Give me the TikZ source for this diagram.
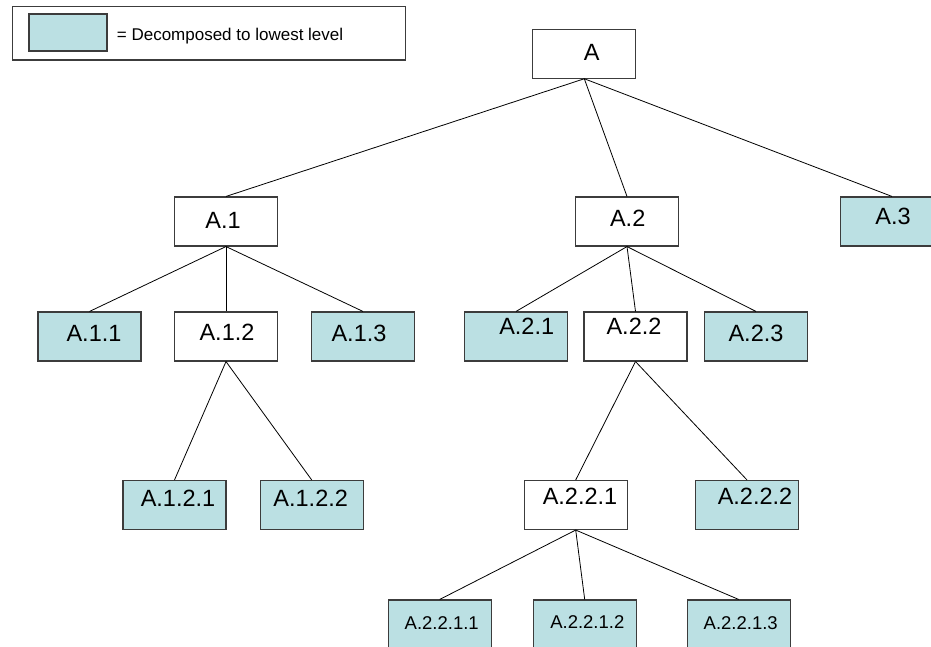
\documentclass[tikz,border=0pt]{standalone}
\usepackage{fontspec}
\setmainfont{Liberation Sans}
\definecolor{leaf}{RGB}{187,224,227}
\definecolor{edge}{RGB}{60,60,60}
\tikzset{
  box/.style={draw=edge, line width=1.1pt, minimum width=103pt, minimum height=49pt, inner sep=0pt, fill=white},
  leafbox/.style={box, fill=leaf},
  lab/.style={font=\fontsize{23.5}{26}\selectfont, inner sep=0pt},
  slab/.style={font=\fontsize{18.5}{21}\selectfont, inner sep=0pt},
  conn/.style={draw=black, line width=0.8pt},
}
\begin{document}
\begin{tikzpicture}[x=1pt,y=-1pt]
\useasboundingbox (0,0) rectangle (931,647);
\clip (0,0) rectangle (931,647);
\fill[white] (0,0) rectangle (931,647);
% legend
\node[draw=edge, line width=1.1pt, minimum width=393pt, minimum height=53.3pt, inner sep=0pt] (legend) at (209.2,33.35) {};
\node[leafbox, minimum width=78pt, minimum height=37pt] (swatch) at (68,32.5) {};
\node[anchor=base west, inner sep=0pt, font=\fontsize{17}{19}\selectfont] (legtext) at (116.7,40.3) {= Decomposed to lowest level};
% tree nodes
\node[box, label={[lab,xshift=7.5pt,yshift=1pt]center:A}] (A) at (584.3,53.7) {};
\node[box, label={[lab,xshift=-3pt,yshift=1.5pt]center:A.1}] (A1) at (226,221.5) {};
\node[box, label={[lab,xshift=0.7pt,yshift=3.5pt]center:A.2}] (A2) at (627,221.5) {};
\node[leafbox, label={[lab,xshift=1pt,yshift=4.8pt]center:A.3}] (A3) at (892,221.5) {};
\node[leafbox, label={[lab,xshift=4.5pt,yshift=3.5pt]center:A.1.1}] (A11) at (89.5,336.5) {};
\node[box, label={[lab,xshift=1pt,yshift=3.8pt]center:A.1.2}] (A12) at (226,336.5) {};
\node[leafbox, label={[lab,xshift=-4pt,yshift=3.5pt]center:A.1.3}] (A13) at (363,336.5) {};
\node[leafbox, label={[lab,xshift=10.7pt,yshift=9.8pt]center:A.2.1}] (A21) at (516,336.5) {};
\node[box, label={[lab,xshift=-1.5pt,yshift=9.8pt]center:A.2.2}] (A22) at (635.5,336.5) {};
\node[leafbox, label={[lab,xshift=0pt,yshift=3.2pt]center:A.2.3}] (A23) at (756,336.5) {};
\node[leafbox, label={[lab,xshift=3.5pt,yshift=7pt]center:A.1.2.1}] (A121) at (174.5,505) {};
\node[leafbox, label={[lab,xshift=-1pt,yshift=6.7pt]center:A.1.2.2}] (A122) at (311.7,505) {};
\node[box, label={[lab,xshift=4.3pt,yshift=8.3pt]center:A.2.2.1}] (A221) at (575.7,505) {};
\node[leafbox, label={[lab,xshift=8pt,yshift=8.3pt]center:A.2.2.2}] (A222) at (747,505) {};
\node[leafbox, label={[slab,xshift=2pt,yshift=1.2pt]center:A.2.2.1.1}] (A2211) at (439.7,624.5) {};
\node[leafbox, label={[slab,xshift=2.6pt,yshift=2.8pt]center:A.2.2.1.2}] (A2212) at (584.7,624.5) {};
\node[leafbox, label={[slab,xshift=2pt,yshift=1.5pt]center:A.2.2.1.3}] (A2213) at (738.7,624.5) {};
% connectors
\draw[conn] (A.south) -- (A1.north);
\draw[conn] (A.south) -- (A2.north);
\draw[conn] (A.south) -- (A3.north);
\draw[conn] (A1.south) -- (A11.north);
\draw[conn] (A1.south) -- (A12.north);
\draw[conn] (A1.south) -- (A13.north);
\draw[conn] (A2.south) -- (A21.north);
\draw[conn] (A2.south) -- (A22.north);
\draw[conn] (A2.south) -- (A23.north);
\draw[conn] (A12.south) -- (A121.north);
\draw[conn] (A12.south) -- (A122.north);
\draw[conn] (A22.south) -- (A221.north);
\draw[conn] (A22.south) -- (A222.north);
\draw[conn] (A221.south) -- (A2211.north);
\draw[conn] (A221.south) -- (A2212.north);
\draw[conn] (A221.south) -- (A2213.north);
\end{tikzpicture}
\end{document}
